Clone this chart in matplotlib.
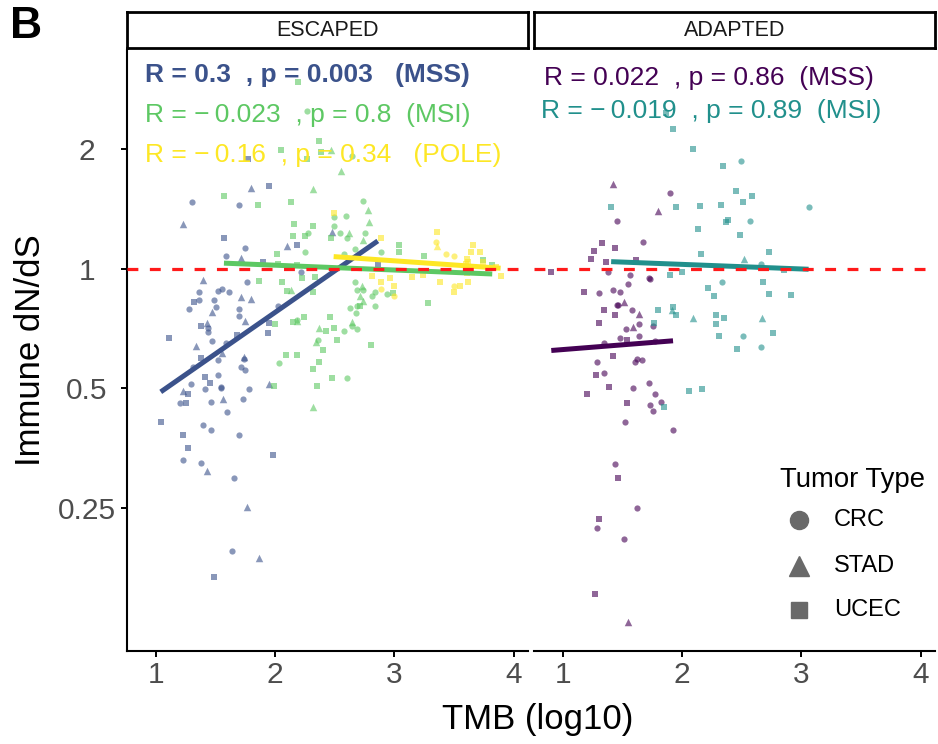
import numpy as np
import matplotlib.pyplot as plt
from matplotlib.lines import Line2D

plt.rcParams['font.family'] = ['Liberation Sans', 'DejaVu Sans']

# ---- data (TMB log10 vs immune dN/dS) ----
# ESCAPED / MSS
esc_mss_tmb = [1.77, 1.795, 1.946, 1.30, 1.70, 1.226, 1.57, 1.586, 1.745, 1.717, 2.10, 2.18, 2.475, 1.90, 2.86,
               1.393, 1.36, 1.516, 1.55, 1.61, 1.76, 1.32, 1.36, 1.488, 1.274, 1.50, 1.711, 1.80, 1.70, 1.70,
               1.47, 1.745, 2.02, 2.22, 1.425, 1.38, 1.44, 1.44, 1.11, 1.47, 1.335, 1.68, 1.586, 1.946, 1.94,
               1.55, 1.38, 1.516, 1.736, 1.736, 1.31, 1.71, 1.75, 1.516, 1.41, 1.455, 1.295, 1.41, 1.546, 1.546,
               1.78, 1.223, 1.27, 1.95, 1.20, 1.25, 1.458, 1.563, 1.728, 1.597, 1.04, 1.393, 1.458, 1.695, 1.228,
               1.27, 1.98, 1.223, 1.377, 1.427, 1.658, 1.76, 1.64, 1.865, 1.488]
esc_mss_dnds = [1.89, 1.60, 1.62, 1.47, 1.45, 1.30, 1.195, 1.08, 1.13, 1.064, 1.14, 1.149, 1.24, 1.04, 1.02,
                0.938, 0.877, 0.88, 0.89, 0.873, 0.927, 0.824, 0.837, 0.835, 0.793, 0.804, 0.851, 0.842, 0.792, 0.762,
                0.778, 0.741, 0.808, 0.983, 0.73, 0.72, 0.709, 0.695, 0.669, 0.659, 0.64, 0.682, 0.65, 0.73, 0.688,
                0.613, 0.596, 0.59, 0.599, 0.592, 0.567, 0.565, 0.557, 0.541, 0.533, 0.515, 0.513, 0.497, 0.50, 0.505,
                0.497, 0.493, 0.483, 0.512, 0.459, 0.459, 0.462, 0.47, 0.47, 0.436, 0.411, 0.404, 0.393, 0.381, 0.381,
                0.354, 0.339, 0.331, 0.325, 0.31, 0.298, 0.252, 0.195, 0.187, 0.167]
esc_mss_type = list("USUCCSUCCSSUSUU" "SCCCCCUCCCCSSCC" "SSCCSUCCUCSUCUU"
                    "SUCSCCCCCUUCCCC" "CSUSCUCSCCUCCCU" "UUCCSCSCSU")

# ESCAPED / MSI
esc_msi_tmb = [2.19, 2.27, 2.364, 2.046, 2.27, 2.47, 2.38, 2.64, 2.554, 2.32,
               1.57, 1.856, 2.13, 2.74, 2.78, 2.16, 2.32, 2.275, 2.49, 2.59,
               2.49, 2.54, 2.615, 2.79, 2.755, 2.465, 2.247, 2.15, 2.60, 2.74,
               2.89, 3.04, 3.04, 2.25, 2.015, 3.25, 3.74, 2.665, 2.58, 2.02,
               2.18, 1.865, 2.057, 2.228, 2.33, 2.10, 2.135, 2.315, 2.665, 2.69,
               2.74, 2.73, 2.71, 2.74, 2.84, 2.81, 2.935, 2.99, 2.69, 2.71,
               2.833, 2.626, 2.676, 3.28, 2.459, 2.241, 2.15, 2.18, 2.18, 2.0,
               2.643, 2.643, 2.69, 2.576, 2.49, 2.425, 2.37, 2.34, 2.36, 2.517,
               2.80, 2.40, 2.09, 2.18, 2.366, 2.03, 2.317, 2.475, 2.60, 2.35,
               2.32, 1.99, 3.82]
esc_msi_dnds = [2.95, 2.50, 2.10, 1.99, 1.89, 1.99, 1.97, 1.93, 1.76, 1.59,
                1.53, 1.45, 1.47, 1.48, 1.41, 1.30, 1.28, 1.23, 1.35, 1.36,
                1.28, 1.23, 1.23, 1.31, 1.23, 1.195, 1.21, 1.21, 1.195, 1.18,
                1.10, 1.15, 1.105, 1.105, 1.09, 1.08, 1.05, 1.12, 1.09, 1.03,
                1.02, 0.934, 0.929, 0.947, 0.953, 0.88, 0.885, 0.873, 0.929, 0.885,
                0.885, 0.908, 0.855, 0.832, 0.873, 0.857, 0.863, 0.872, 0.808, 0.807,
                0.808, 0.796, 0.776, 0.82, 0.756, 0.756, 0.734, 0.74, 0.745, 0.726,
                0.737, 0.72, 0.706, 0.699, 0.709, 0.697, 0.709, 0.656, 0.663, 0.662,
                0.642, 0.625, 0.606, 0.606, 0.583, 0.579, 0.56, 0.53, 0.532, 0.506,
                0.45, 0.507, 1.02]
esc_msi_type = list("UCUUUSUCSS" "UUUCSUUCCC" "CCSSCUUUCS" "CUUCUUUCCU" "UUUUUUSUCC"
                    "CSSSCCCUCU" "CCCUUUUSCU" "SCCCUUSSCU" "UUUUUCUUCU" "SUU")

# ESCAPED / POLE
esc_pole_tmb = [2.49, 3.36, 3.35, 3.36, 3.43, 3.50, 3.66, 3.64, 3.72, 3.61,
                3.60, 2.89, 3.85, 2.81, 2.89, 2.96, 3.0, 2.89, 3.0, 3.15,
                3.24, 3.38, 3.50, 3.55, 3.50, 3.62, 3.62, 3.74, 3.89, 3.61]
esc_pole_dnds = [1.38, 1.24, 1.17, 1.14, 1.09, 1.08, 1.15, 1.105, 1.10, 1.06,
                 1.03, 1.195, 1.01, 0.962, 0.926, 0.947, 0.903, 0.889, 0.857, 0.956,
                 0.966, 0.926, 0.906, 0.903, 0.873, 0.929, 1.04, 1.04, 0.96, 0.975]
esc_pole_type = list("UUCSCCUUUU" "UUUUUUUCCU" "UUCUUUUUUU")

# ADAPTED / MSS
ada_mss_tmb = [1.418, 1.90, 1.80, 1.452, 1.675, 1.33, 1.437, 1.262, 1.237, 1.36,
               1.61, 0.902, 1.38, 1.558, 1.72, 1.73, 1.546, 1.178, 1.304, 1.418,
               1.48, 1.455, 1.46, 1.51, 1.346, 1.575, 1.64, 1.437, 1.304, 1.59,
               1.64, 1.526, 1.757, 1.48, 1.538, 1.636, 1.346, 1.77, 1.42, 1.282,
               1.62, 1.60, 1.66, 1.28, 1.346, 1.388, 1.59, 1.72, 1.203, 1.775,
               1.825, 1.538, 1.73, 1.757, 1.523, 1.923, 1.435, 1.463, 1.625, 1.304,
               1.282, 1.51, 1.265, 1.546]
ada_mss_dnds = [1.64, 1.55, 1.40, 1.32, 1.17, 1.16, 1.13, 1.11, 1.06, 1.04,
                1.05, 0.98, 0.984, 0.968, 0.951, 0.942, 0.915, 0.874, 0.872, 0.884,
                0.875, 0.812, 0.81, 0.827, 0.787, 0.789, 0.769, 0.765, 0.73, 0.713,
                0.726, 0.705, 0.72, 0.669, 0.662, 0.678, 0.652, 0.659, 0.603, 0.582,
                0.592, 0.583, 0.588, 0.54, 0.547, 0.504, 0.50, 0.516, 0.483, 0.483,
                0.463, 0.459, 0.455, 0.439, 0.411, 0.393, 0.322, 0.297, 0.25, 0.234,
                0.223, 0.209, 0.152, 0.129]
ada_mss_type = list("SCSCCUUUUU" "UUCCCCCUCC" "CCCSUCSUUS" "CCCCUCCCUC"
                    "CCCUCUCCUC" "CUCCCCCUCU" "CCUS")

# ADAPTED / MSI
ada_msi_tmb = [1.868, 1.923, 2.09, 2.49, 2.34, 2.45, 2.584, 2.51, 1.404, 1.95,
               2.15, 2.325, 3.06, 2.38, 2.37, 2.57, 2.13, 2.485, 2.16, 2.73,
               2.52, 2.66, 1.90, 2.0, 2.335, 2.68, 2.216, 2.266, 2.73, 2.91,
               1.798, 1.923, 1.948, 1.764, 1.916, 2.09, 2.28, 2.35, 2.28, 2.67,
               2.765, 2.51, 2.31, 2.46, 2.66, 2.06, 2.17, 1.848, 2.85]
ada_msi_dnds = [2.47, 2.25, 2.01, 1.87, 1.82, 1.57, 1.53, 1.47, 1.43, 1.43,
                1.44, 1.45, 1.43, 1.33, 1.31, 1.32, 1.26, 1.22, 1.09, 1.10,
                1.06, 1.03, 0.964, 0.981, 0.926, 0.926, 0.894, 0.854, 0.863, 0.858,
                0.787, 0.80, 0.765, 0.73, 0.789, 0.75, 0.765, 0.75, 0.726, 0.751,
                0.689, 0.679, 0.677, 0.628, 0.636, 0.492, 0.497, 0.449, 0.994]
ada_msi_type = list("UUUCUUUUUU" "UUCUUCUUUU" "SCUUCUUUUU" "UUUUSSUUUS" "UCUUCUUUU")

# linear fits (end points, as drawn)
esc_mss_fit = ([1.04, 2.86], [0.49, 1.176])
esc_msi_fit = ([1.57, 3.82], [1.034, 0.971])
esc_pole_fit = ([2.49, 3.89], [1.074, 1.004])
ada_mss_fit = ([0.902, 1.923], [0.623, 0.659])
ada_msi_fit = ([1.404, 3.06], [1.043, 0.998])

tumor_codes = ['C', 'S', 'U']
tumor_names = ['CRC', 'STAD', 'UCEC']
markers = {'C': 'o', 'S': '^', 'U': 's'}
sizes = {'C': 20, 'S': 29, 'U': 24}

col_mss = '#3B528B'
col_msi = '#5DC863'
col_pole = '#FDE725'
col_ada_mss = '#440154'
col_ada_msi = '#21908C'


def draw_points(ax, tmb, dnds, types, color):
    tmb = np.array(tmb)
    dnds = np.array(dnds)
    types = np.array(types)
    for code in tumor_codes:
        m = types == code
        ax.scatter(tmb[m], dnds[m], marker=markers[code], s=sizes[code],
                   color=color, alpha=0.6, linewidths=0, zorder=2)


W, H = 938, 744
fig = plt.figure(figsize=(W / 100, H / 100), dpi=100)


def box(x0, y0, x1, y1):
    # pixel box (top-left origin) -> figure fraction
    return [x0 / W, 1 - y1 / H, (x1 - x0) / W, (y1 - y0) / H]


ax_esc = fig.add_axes(box(127, 50, 528, 651))
ax_ada = fig.add_axes(box(534, 50, 935, 651))

for ax in (ax_esc, ax_ada):
    ax.set_yscale('log', base=2)
    ax.set_ylim(0.109, 3.56)
    ax.set_xlim(0.757, 4.12)
    ax.set_xticks([1, 2, 3, 4])
    ax.set_xticklabels(['1', '2', '3', '4'])
    ax.set_yticks([0.25, 0.5, 1, 2])
    ax.minorticks_off()
    for s in ('top', 'right'):
        ax.spines[s].set_visible(False)
    for s in ('left', 'bottom'):
        ax.spines[s].set_linewidth(1.5)
    ax.tick_params(length=4.3, width=1.4, labelsize=21.5, labelcolor='#4D4D4D', pad=3)
    ax.axhline(1, color='#FF1A1A', lw=2.3, ls=(0, (3.4, 3.6)), zorder=4)

ax_esc.set_yticklabels(['0.25', '0.5', '1', '2'])
for lbl in ax_esc.get_yticklabels():
    lbl.set_horizontalalignment('center')
ax_esc.tick_params(axis='y', pad=24.5)

ax_ada.spines['left'].set_visible(False)
ax_ada.tick_params(axis='y', left=False, labelleft=False)

# points
draw_points(ax_esc, esc_mss_tmb, esc_mss_dnds, esc_mss_type, col_mss)
draw_points(ax_esc, esc_msi_tmb, esc_msi_dnds, esc_msi_type, col_msi)
draw_points(ax_esc, esc_pole_tmb, esc_pole_dnds, esc_pole_type, col_pole)
draw_points(ax_ada, ada_mss_tmb, ada_mss_dnds, ada_mss_type, col_ada_mss)
draw_points(ax_ada, ada_msi_tmb, ada_msi_dnds, ada_msi_type, col_ada_msi)

# fit lines
for ax, fit, col in ((ax_esc, esc_mss_fit, col_mss), (ax_esc, esc_msi_fit, col_msi),
                     (ax_esc, esc_pole_fit, col_pole), (ax_ada, ada_mss_fit, col_ada_mss),
                     (ax_ada, ada_msi_fit, col_ada_msi)):
    ax.plot(*fit, color=col, lw=3.6, solid_capstyle='butt', zorder=3)

# correlation labels
MINUS = '\u2212\u2009'
ax_esc.text(0.045, 0.947, 'R = 0.3  , p = 0.003   (MSS)', transform=ax_esc.transAxes,
            color=col_mss, fontsize=19, fontweight='bold', va='baseline')
ax_esc.text(0.045, 0.880, 'R = ' + MINUS + '0.023  , p = 0.8  (MSI)', transform=ax_esc.transAxes,
            color=col_msi, fontsize=19, va='baseline')
ax_esc.text(0.045, 0.814, 'R = ' + MINUS + '0.16  , p = 0.34   (POLE)', transform=ax_esc.transAxes,
            color=col_pole, fontsize=19, va='baseline')
ax_ada.text(0.025, 0.942, 'R = 0.022  , p = 0.86  (MSS)', transform=ax_ada.transAxes,
            color=col_ada_mss, fontsize=19, va='baseline')
ax_ada.text(0.018, 0.887, 'R = ' + MINUS + '0.019  , p = 0.89  (MSI)', transform=ax_ada.transAxes,
            color=col_ada_msi, fontsize=19, va='baseline')

# facet strips
for ax, title in ((ax_esc, 'ESCAPED'), (ax_ada, 'ADAPTED')):
    pos = ax.get_position()
    strip = fig.add_axes([pos.x0, 1 - 48 / H, pos.width, 36 / H])
    strip.set_xticks([])
    strip.set_yticks([])
    for s in strip.spines.values():
        s.set_linewidth(2)
    strip.text(0.5, 0.5, title, ha='center', va='center', fontsize=15.5, color='#1A1A1A')

# legend (drawn by hand to sit inside the right panel)
fig.text(780 / W, 1 - 487 / H, 'Tumor Type', fontsize=19.8, va='baseline')
legend_sizes = {'C': 13, 'S': 15, 'U': 12}
for code, name, yy in zip(tumor_codes, tumor_names, [520, 566, 610]):
    fig.add_artist(Line2D([799 / W], [1 - yy / H], marker=markers[code], markersize=legend_sizes[code],
                          color='#696969', linestyle='none', transform=fig.transFigure))
    fig.text(834 / W, 1 - yy / H, name, fontsize=17, va='center')

fig.text(10 / W, 1 - 27 / H, 'B', fontsize=32, fontweight='bold', va='center')
fig.text(30 / W, 1 - 350 / H, 'Immune dN/dS', rotation=90, ha='center', va='center', fontsize=25)
fig.text(538 / W, 1 - 719 / H, 'TMB (log10)', ha='center', va='center', fontsize=25)

fig.savefig('out.png', dpi=100)
